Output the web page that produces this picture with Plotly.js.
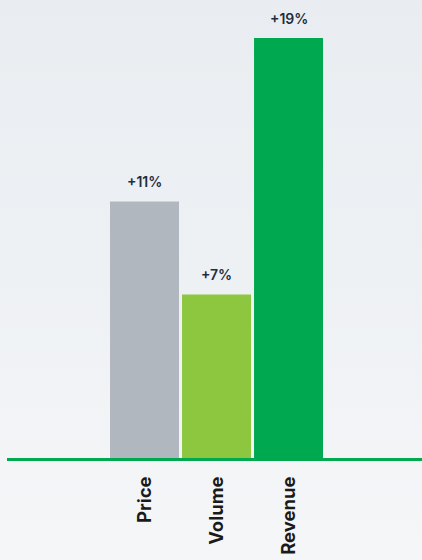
<!DOCTYPE html>
<html>
<head>
<meta charset="utf-8">
<script src="https://cdn.plot.ly/plotly-3.0.1.min.js"></script>
<style>
html,body{margin:0;padding:0;width:422px;height:560px;overflow:hidden;}
body{background:linear-gradient(to bottom,#e9edf1 0%,#eef1f4 50%,#f5f6f8 100%);}
#chart{width:422px;height:560px;}
</style>
</head>
<body>
<div id="chart"></div>
<script>
const categories = ["Price", "Volume", "Revenue"];
const values = [11.6, 7.4, 19.0];
const valueLabels = ["+11%", "+7%", "+19%"];
const barColors = ["#b1b7bf", "#8dc63f", "#00a94f"];

const trace = {
  type: "bar",
  x: categories,
  y: values,
  marker: {color: barColors, line: {width: 0}},
  hoverinfo: "none"
};

const annotations = categories.map((c, i) => ({
  x: c, y: values[i], xref: "x", yref: "y",
  text: valueLabels[i], showarrow: false,
  yanchor: "middle", yshift: 20,
  font: {family: "Inter, 'Open Sans', sans-serif", size: 14, color: "#1f2d3d", weight: 600}
}));

const layout = {
  width: 422, height: 560,
  margin: {l: 7, r: 0, t: 0, b: 102},
  paper_bgcolor: "rgba(0,0,0,0)",
  plot_bgcolor: "rgba(0,0,0,0)",
  showlegend: false,
  bargap: 0.042,
  xaxis: {
    type: "category",
    range: [-1.91, 3.854],
    showline: true, linecolor: "#00a94f", linewidth: 3,
    showgrid: false, zeroline: false,
    ticks: "", tickangle: -90,
    ticklabelstandoff: 8,
    tickfont: {family: "Inter, 'Open Sans', sans-serif", size: 18.5, color: "#1a1a1a", weight: 700}
  },
  yaxis: {
    range: [0, 20.72],
    visible: false, showgrid: false, zeroline: false
  },
  annotations: annotations
};

Plotly.newPlot("chart", [trace], layout, {displayModeBar: false, staticPlot: true});
</script>
</body>
</html>
